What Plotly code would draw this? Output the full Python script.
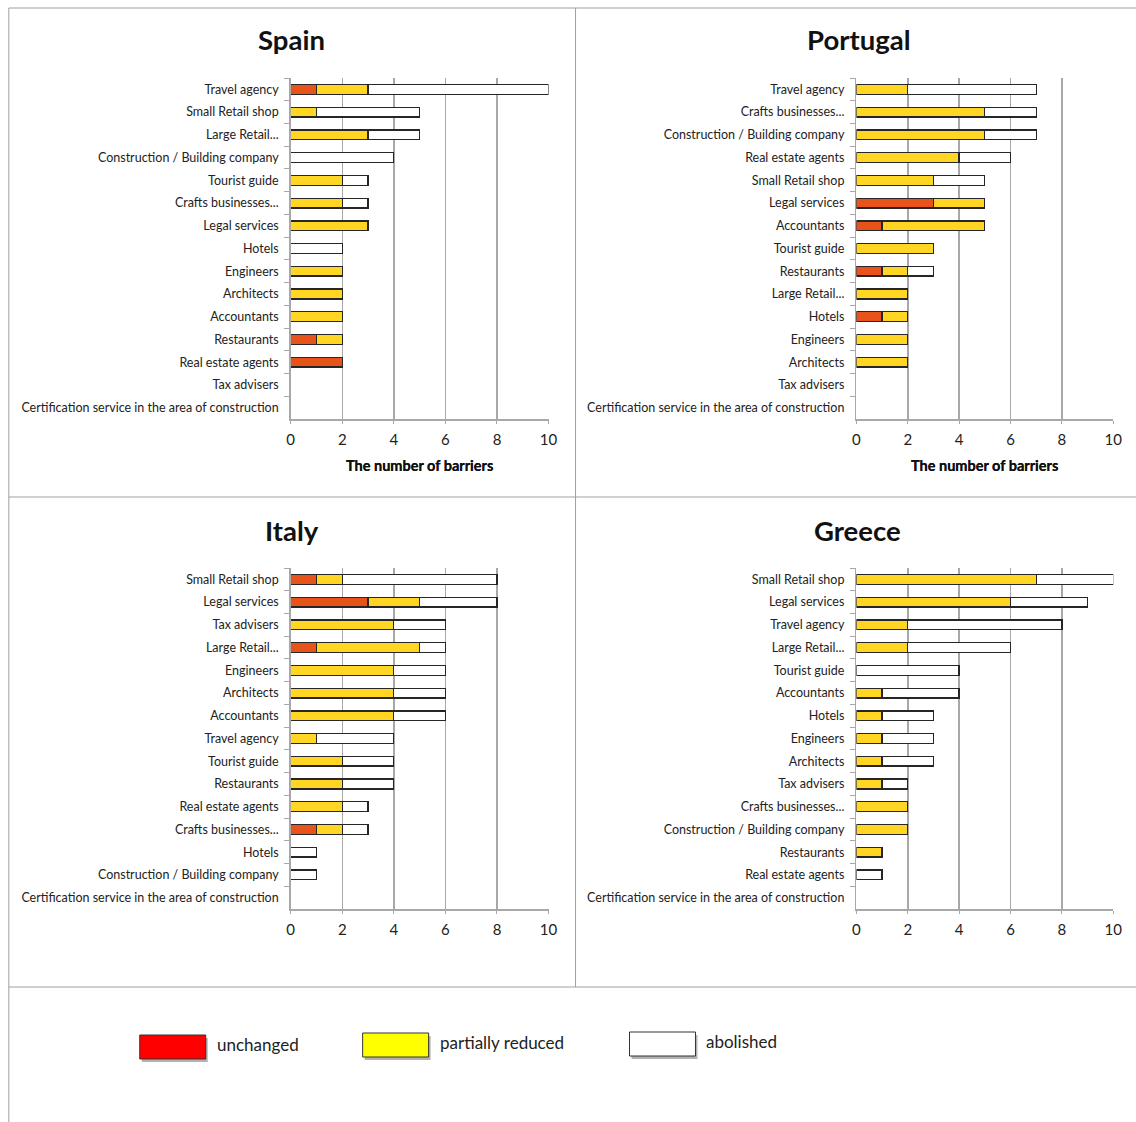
import plotly.graph_objects as go

W, H = 1136, 1122

# ---------------- data ----------------
spain_categories = ["Travel agency", "Small Retail shop", "Large Retail...", "Construction / Building company",
                    "Tourist guide", "Crafts businesses...", "Legal services", "Hotels", "Engineers",
                    "Architects", "Accountants", "Restaurants", "Real estate agents", "Tax advisers",
                    "Certification service in the area of construction"]
spain_unchanged = [1, 0, 0, 0, 0, 0, 0, 0, 0, 0, 0, 1, 2, 0, 0]
spain_partial = [2, 1, 3, 0, 2, 2, 3, 0, 2, 2, 2, 1, 0, 0, 0]
spain_abolished = [7, 4, 2, 4, 1, 1, 0, 2, 0, 0, 0, 0, 0, 0, 0]

portugal_categories = ["Travel agency", "Crafts businesses...", "Construction / Building company",
                       "Real estate agents", "Small Retail shop", "Legal services", "Accountants",
                       "Tourist guide", "Restaurants", "Large Retail...", "Hotels", "Engineers",
                       "Architects", "Tax advisers", "Certification service in the area of construction"]
portugal_unchanged = [0, 0, 0, 0, 0, 3, 1, 0, 1, 0, 1, 0, 0, 0, 0]
portugal_partial = [2, 5, 5, 4, 3, 2, 4, 3, 1, 2, 1, 2, 2, 0, 0]
portugal_abolished = [5, 2, 2, 2, 2, 0, 0, 0, 1, 0, 0, 0, 0, 0, 0]

italy_categories = ["Small Retail shop", "Legal services", "Tax advisers", "Large Retail...", "Engineers",
                    "Architects", "Accountants", "Travel agency", "Tourist guide", "Restaurants",
                    "Real estate agents", "Crafts businesses...", "Hotels", "Construction / Building company",
                    "Certification service in the area of construction"]
italy_unchanged = [1, 3, 0, 1, 0, 0, 0, 0, 0, 0, 0, 1, 0, 0, 0]
italy_partial = [1, 2, 4, 4, 4, 4, 4, 1, 2, 2, 2, 1, 0, 0, 0]
italy_abolished = [6, 3, 2, 1, 2, 2, 2, 3, 2, 2, 1, 1, 1, 1, 0]

greece_categories = ["Small Retail shop", "Legal services", "Travel agency", "Large Retail...", "Tourist guide",
                     "Accountants", "Hotels", "Engineers", "Architects", "Tax advisers", "Crafts businesses...",
                     "Construction / Building company", "Restaurants", "Real estate agents",
                     "Certification service in the area of construction"]
greece_unchanged = [0, 0, 0, 0, 0, 0, 0, 0, 0, 0, 0, 0, 0, 0, 0]
greece_partial = [7, 6, 2, 2, 0, 1, 1, 1, 1, 1, 2, 2, 1, 0, 0]
greece_abolished = [3, 3, 6, 4, 4, 3, 2, 2, 2, 1, 0, 0, 0, 1, 0]

series_names = ["unchanged", "partially reduced", "abolished"]
x_tick_values = [0, 2, 4, 6, 8, 10]
axis_title = "The number of barriers"

# ---------------- styling / layout ----------------
bar_colors = ["#E8531C", "#FFD624", "#FFFFFF"]
legend_colors = ["#FF0000", "#FFFF00", "#FFFFFF"]
FONT = "Lato"
GRID = "#A8A8A8"
FRAME = "#A0A0A0"

# horizontal calibration of the rendered page
SX, OX = 0.98906, 3.17


def px(x):
    return ((x - OX) / SX) / W


def py(y):
    return 1 - y / H


panels = [
    ("Spain", spain_categories, [spain_unchanged, spain_partial, spain_abolished], (290, 548, 78, 419)),
    ("Portugal", portugal_categories, [portugal_unchanged, portugal_partial, portugal_abolished], (856, 1113, 78, 419)),
    ("Italy", italy_categories, [italy_unchanged, italy_partial, italy_abolished], (290, 548, 568, 909)),
    ("Greece", greece_categories, [greece_unchanged, greece_partial, greece_abolished], (856, 1113, 568, 909)),
]

fig = go.Figure()
layout = dict(
    width=W, height=H,
    margin=dict(l=0, r=0, t=0, b=0),
    paper_bgcolor="white", plot_bgcolor="white",
    barmode="stack", bargap=0.57, showlegend=False,
    font=dict(family=FONT, color="#222222"),
)
annotations = []
shapes = []

for i, (name, cats, series, (x0, x1, y0, y1)) in enumerate(panels):
    sfx = "" if i == 0 else str(i + 1)
    for s_idx, vals in enumerate(series):
        fig.add_trace(go.Bar(
            y=cats, x=[v if v else None for v in vals], orientation="h",
            name=series_names[s_idx],
            marker=dict(color=bar_colors[s_idx], line=dict(color="#262626", width=1.3)),
            xaxis="x" + sfx, yaxis="y" + sfx,
        ))
    layout["xaxis" + sfx] = dict(
        domain=[px(x0), px(x1)], anchor="y" + sfx, range=[0, 10],
        tickvals=x_tick_values, showgrid=True, gridcolor=GRID, gridwidth=1.5,
        showline=True, linecolor=GRID, linewidth=1.5, ticks="outside", ticklen=3, tickcolor=GRID,
        tickfont=dict(size=15, color="#222222"), zeroline=False, fixedrange=True,
        ticklabelstandoff=3,
    )
    layout["yaxis" + sfx] = dict(
        domain=[py(y1), py(y0)], anchor="x" + sfx, type="category",
        categoryorder="array", categoryarray=cats, autorange="reversed",
        showline=True, linecolor=GRID, linewidth=1.5, ticks="outside", ticklen=5, tickcolor=GRID,
        tickson="boundaries", showgrid=False, tickfont=dict(size=12.5, color="#222222"),
        ticklabelstandoff=8,
    )
    cx = (x0 + x1) / 2
    annotations.append(dict(
        text="<b>%s</b>" % axis_title, x=px(cx), y=py(466), xref="paper", yref="paper",
        showarrow=False, xanchor="center", yanchor="middle", font=dict(size=14.5, color="#111111"),
    ))

titles = [("Spain", 291, 40), ("Portugal", 858, 40), ("Italy", 291, 530), ("Greece", 857, 530)]
for t, tx, ty in titles:
    annotations.append(dict(
        text="<b>%s</b>" % t, x=px(tx), y=py(ty), xref="paper", yref="paper",
        showarrow=False, xanchor="center", yanchor="middle", font=dict(size=27.5, color="#111111"),
    ))

# frame lines
for (ax0, ay0, ax1, ay1) in [(8, 8, 8, H), (8, 8, W + 20, 8), (575, 8, 575, 987),
                             (8, 497, W + 20, 497), (8, 987, W + 20, 987)]:
    shapes.append(dict(type="line", xref="paper", yref="paper", x0=px(ax0), y0=py(ay0), x1=px(ax1), y1=py(ay1),
                       line=dict(color=FRAME, width=1)))

# custom legend
legend_boxes = [(139, 1035), (362, 1033), (629, 1032)]
for (lx, ly), col, lab in zip(legend_boxes, legend_colors, series_names):
    shapes.append(dict(type="rect", xref="paper", yref="paper", x0=px(lx + 2), y0=py(ly + 3),
                       x1=px(lx + 66 + 2), y1=py(ly + 24 + 3), line=dict(width=0),
                       fillcolor="rgba(0,0,0,0.30)"))
    shapes.append(dict(type="rect", xref="paper", yref="paper", x0=px(lx), y0=py(ly),
                       x1=px(lx + 66), y1=py(ly + 24), line=dict(color="#333333", width=1),
                       fillcolor=col))
    annotations.append(dict(text=lab, x=px(lx + 75), y=py(ly + 9), xref="paper", yref="paper",
                            showarrow=False, xanchor="left", yanchor="middle",
                            font=dict(size=17, color="#222222")))

layout["annotations"] = annotations
layout["shapes"] = shapes
fig.update_layout(**layout)
fig.write_html(
    "out.html",
    config={"displayModeBar": False, "staticPlot": True},
    post_script=("document.documentElement.style.margin='0px';"
                 "document.documentElement.style.overflow='hidden';"
                 "document.body.style.margin='0px';"
                 "document.body.style.overflow='hidden';"),
)
